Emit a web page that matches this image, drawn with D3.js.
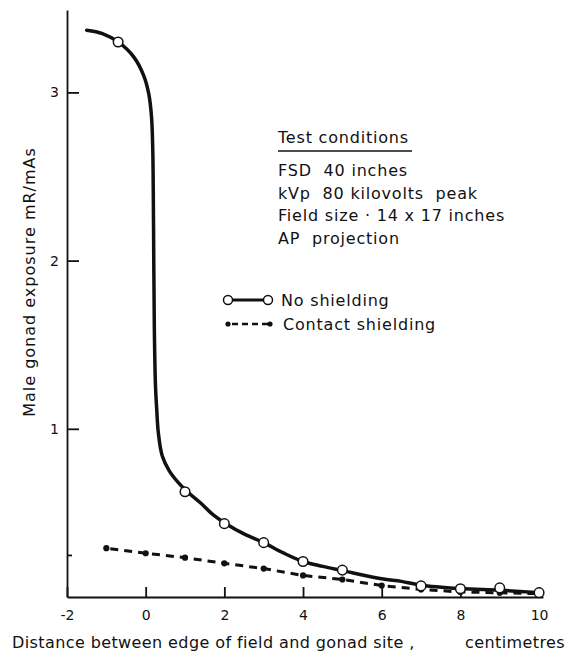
<!DOCTYPE html>
<html>
<head>
<meta charset="utf-8">
<script src="https://cdn.jsdelivr.net/npm/d3@7"></script>
<style>
  body { margin: 0; background: #fff; }
  svg text { font-family: "DejaVu Sans", sans-serif; fill: #111; }
  .axis path, .axis line { stroke: #111; stroke-width: 1.8; }
  .axis text { font-size: 14px; }
</style>
</head>
<body>
<div id="chart"></div>
<script>
//=================================================
// Data
//=================================================
// no shielding: open circle markers
var noShieldX = [-0.7, 1, 2, 3, 4, 5, 7, 8, 9, 10];
var noShieldY = [3.30, 0.626, 0.436, 0.323, 0.211, 0.160, 0.066, 0.049, 0.054, 0.026];

// no shielding: traced curve
var curveX = [-1.5, -1.1, -0.7, -0.3, -0.05, 0.08, 0.15, 0.18, 0.2, 0.22, 0.25, 0.28, 0.32, 0.42, 0.6, 0.83, 1.06, 1.39, 1.71, 2.04, 2.5, 3, 3.5, 4, 4.5, 5, 6, 6.5, 7, 8, 9, 10];
var curveY = [3.37, 3.35, 3.30, 3.21, 3.10, 2.99, 2.85, 2.66, 2.2, 1.6, 1.25, 1.12, 0.98, 0.84, 0.75, 0.68, 0.626, 0.56, 0.49, 0.436, 0.375, 0.323, 0.262, 0.211, 0.182, 0.157, 0.108, 0.093, 0.07, 0.05, 0.04, 0.026];

// contact shielding: filled dots
var contactX = [-1, 0, 1, 2, 3, 4, 5, 6, 7, 8, 9, 10];
var contactY = [0.29, 0.26, 0.234, 0.20, 0.169, 0.128, 0.104, 0.068, 0.045, 0.03, 0.025, 0.02];

var xTicks = [-2, 0, 2, 4, 6, 8, 10];
var yTicks = [1, 2, 3];
var yMinorTicks = [0.25];

var conditions = ["FSD  40 inches", "kVp  80 kilovolts  peak", "Field size \u00b7 14 x 17 inches", "AP  projection"];

//=================================================
// Dimensions
//=================================================
var width = 571, height = 658;

var xScale = d3.scaleLinear().domain([-2, 10.1]).range([67, 543]);
var yScale = d3.scaleLinear().domain([0, 3.49]).range([597, 10]);

var svg = d3.select("#chart").append("svg")
  .attr("width", width)
  .attr("height", height);

//=================================================
// Axes
//=================================================
svg.append("g")
  .attr("class", "axis")
  .attr("transform", "translate(0," + yScale(0) + ")")
  .call(d3.axisBottom(xScale).tickValues(xTicks).tickSize(-10).tickSizeOuter(0).tickPadding(10).tickFormat(d => String(d)))
  .call(g => g.selectAll("text").attr("dy", "0.9em"));

svg.append("g")
  .attr("class", "axis")
  .attr("transform", "translate(" + xScale(-2) + ",0)")
  .call(d3.axisLeft(yScale).tickValues(yTicks).tickSize(-12).tickSizeOuter(0).tickPadding(8).tickFormat(d => String(d)));

svg.append("g")
  .attr("class", "axis")
  .attr("transform", "translate(" + xScale(-2) + ",0)")
  .call(d3.axisLeft(yScale).tickValues(yMinorTicks).tickSize(-5).tickSizeOuter(0).tickFormat(""))
  .call(g => g.select(".domain").remove());

// axis titles
svg.append("text")
  .attr("x", 12)
  .attr("y", 648)
  .attr("font-size", "16px")
  .attr("letter-spacing", "0.4px")
  .text("Distance between edge of field and gonad site ,");

svg.append("text")
  .attr("x", 565)
  .attr("y", 648)
  .attr("text-anchor", "end")
  .attr("font-size", "16px")
  .attr("letter-spacing", "0.4px")
  .text("centimetres");

svg.append("text")
  .attr("transform", "translate(35,282) rotate(-90)")
  .attr("text-anchor", "middle")
  .attr("font-size", "16px")
  .attr("letter-spacing", "1px")
  .text("Male gonad exposure mR/mAs");

//=================================================
// Contact shielding
//=================================================
var contact = contactX.map((x, i) => [x, contactY[i]]);

svg.append("path")
  .datum(contact)
  .attr("fill", "none")
  .attr("stroke", "#111")
  .attr("stroke-width", 3)
  .attr("stroke-dasharray", "8,6")
  .attr("stroke-dashoffset", -4)
  .attr("d", d3.line().x(d => xScale(d[0])).y(d => yScale(d[1])));

svg.selectAll(".cdot")
  .data(contact)
  .enter()
  .append("circle")
  .attr("class", "cdot")
  .attr("cx", d => xScale(d[0]))
  .attr("cy", d => yScale(d[1]))
  .attr("r", 3.1)
  .attr("fill", "#111");

//=================================================
// No shielding
//=================================================
var curve = curveX.map((x, i) => [x, curveY[i]]);

svg.append("path")
  .datum(curve)
  .attr("fill", "none")
  .attr("stroke", "#111")
  .attr("stroke-width", 3.5)
  .attr("stroke-linecap", "round")
  .attr("d", d3.line().curve(d3.curveCatmullRom.alpha(0.5)).x(d => xScale(d[0])).y(d => yScale(d[1])));

svg.selectAll(".ndot")
  .data(noShieldX.map((x, i) => [x, noShieldY[i]]))
  .enter()
  .append("circle")
  .attr("class", "ndot")
  .attr("cx", d => xScale(d[0]))
  .attr("cy", d => yScale(d[1]))
  .attr("r", 4.8)
  .attr("fill", "#fff")
  .attr("stroke", "#111")
  .attr("stroke-width", 1.5);

//=================================================
// Test conditions note
//=================================================
var note = svg.append("g").attr("transform", "translate(278,0)");

note.append("text")
  .attr("x", 0)
  .attr("y", 143)
  .attr("font-size", "16px")
  .attr("letter-spacing", "0.8px")
  .text("Test conditions");

note.append("line")
  .attr("x1", 0).attr("x2", 134)
  .attr("y1", 151).attr("y2", 151)
  .attr("stroke", "#111")
  .attr("stroke-width", 1.3);

note.selectAll(".cond")
  .data(conditions)
  .enter()
  .append("text")
  .attr("class", "cond")
  .attr("x", 0)
  .attr("y", (d, i) => 176 + i * 22.7)
  .attr("font-size", "16px")
  .attr("letter-spacing", "0.8px")
  .attr("xml:space", "preserve")
  .style("white-space", "pre")
  .text(d => d);

//=================================================
// Legend
//=================================================
var legend = svg.append("g");

legend.append("line")
  .attr("x1", 228).attr("x2", 268)
  .attr("y1", 300).attr("y2", 300)
  .attr("stroke", "#111").attr("stroke-width", 3);

legend.selectAll(".lcirc")
  .data([228, 268])
  .enter()
  .append("circle")
  .attr("cx", d => d)
  .attr("cy", 300)
  .attr("r", 4.5)
  .attr("fill", "#fff")
  .attr("stroke", "#111")
  .attr("stroke-width", 1.5);

legend.append("text")
  .attr("x", 281)
  .attr("y", 306)
  .attr("font-size", "16px")
  .attr("letter-spacing", "0.8px")
  .text("No shielding");

legend.append("line")
  .attr("x1", 228).attr("x2", 270)
  .attr("y1", 324).attr("y2", 324)
  .attr("stroke", "#111").attr("stroke-width", 2.6)
  .attr("stroke-dasharray", "6,4")
  .attr("stroke-dashoffset", -4);

legend.selectAll(".ldot")
  .data([228, 270])
  .enter()
  .append("circle")
  .attr("cx", d => d)
  .attr("cy", 324)
  .attr("r", 2.6)
  .attr("fill", "#111");

legend.append("text")
  .attr("x", 283)
  .attr("y", 330)
  .attr("font-size", "16px")
  .attr("letter-spacing", "0.8px")
  .text("Contact shielding");
</script>
</body>
</html>
